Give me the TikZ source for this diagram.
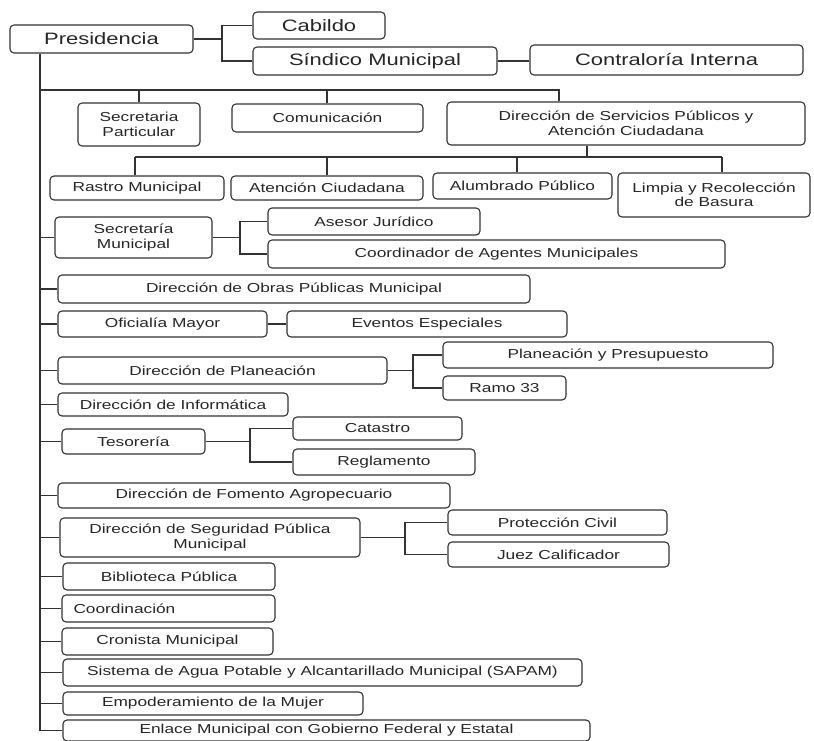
\documentclass[tikz,border=0pt]{standalone}
\usepackage{fontspec}
\setmainfont{Liberation Sans}[FakeStretch=1.33]
\tikzset{
  orgbox/.style={draw=black!80, line width=1.1pt, rounded corners=4pt, align=center,
    inner sep=1pt, text=black!85, font=\fontsize{13}{14.5}\selectfont},
  bigtxt/.style={font=\fontsize{16.5}{18}\selectfont},
  conn/.style={draw=black!80, line width=1.1pt}
}
% #1 options, #2 name, #3 x1, #4 y1, #5 x2, #6 y2, #7 text
\newcommand\obox[7][]{%
  \node[orgbox, minimum width={(#5-#3)*1pt}, minimum height={(#6-#4)*1pt}, #1]
    (#2) at ({(#3+#5)/2},{(#4+#6)/2}) {#7};}
\begin{document}
\begin{tikzpicture}[x=1pt,y=-1pt]
\useasboundingbox (0,0) rectangle (814,741);
% top level
\obox[bigtxt]{pres}{10}{25}{193}{53}{Presidencia}
\obox[bigtxt]{cab}{253}{12}{385}{39}{Cabildo}
\obox[bigtxt]{sin}{253}{47}{497}{75}{Síndico Municipal}
\obox[bigtxt]{con}{530}{45}{803}{75}{Contraloría Interna}
% second row
\obox{sp}{78}{103}{200}{146}{Secretaria\\Particular}
\obox{com}{232}{104}{423}{132}{Comunicación}
\obox{dsp}{447}{102}{805}{145}{Dirección de Servicios Públicos y\\Atención Ciudadana}
% third row
\obox{ras}{50}{176}{224}{200}{Rastro Municipal}
\obox{ate}{231}{176}{423}{200}{Atención Ciudadana}
\obox{alu}{433}{173}{612}{199}{Alumbrado Público}
\obox{lim}{618}{173}{810}{217}{Limpia y Recolección\\de Basura}
% list
\obox{sm}{55}{217}{212}{258}{Secretaría\\Municipal}
\obox{ase}{268}{208}{480}{235}{Asesor Jurídico}
\obox{cam}{268}{240}{725}{268}{Coordinador de Agentes Municipales}
\obox{dop}{58}{275}{530}{303}{Dirección de Obras Públicas Municipal}
\obox{ofi}{58}{311}{267}{337}{Oficialía Mayor}
\obox{eve}{287}{311}{567}{337}{Eventos Especiales}
\obox{dpl}{58}{357}{387}{384}{Dirección de Planeación}
\obox{ppr}{443}{342}{773}{368}{Planeación y Presupuesto}
\obox{ram}{443}{376}{566}{400}{Ramo 33}
\obox{din}{58}{393}{288}{416}{Dirección de Informática}
\obox{tes}{62}{429}{205}{454}{Tesorería}
\obox{cat}{293}{417}{462}{440}{Catastro}
\obox{reg}{293}{449}{475}{475}{Reglamento}
\obox{dfa}{58}{483}{450}{508}{Dirección de Fomento Agropecuario}
\obox{dsg}{60}{518}{360}{557}{Dirección de Seguridad Pública\\Municipal}
\obox{pci}{448}{510}{667}{535}{Protección Civil}
\obox{jue}{448}{542}{669}{567}{Juez Calificador}
\obox{bib}{63}{563}{275}{590}{Biblioteca Pública}
\obox[text width=190pt, align=left, inner xsep=11.5pt]{coo}{62}{595}{275}{622}{Coordinación}
\obox{cro}{62}{628}{273}{655}{Cronista Municipal}
\obox{sap}{63}{659}{582}{686}{Sistema de Agua Potable y Alcantarillado Municipal (SAPAM)}
\obox{emp}{63}{692}{363}{715}{Empoderamiento de la Mujer}
\obox{enl}{63}{720}{590}{741}{Enlace Municipal con Gobierno Federal y Estatal}
% helper coordinates
\coordinate (T) at (40,0);
\coordinate (bus) at (0,90);
\coordinate (k1) at (222,0);
\coordinate (d1) at (559,90);
\coordinate (bus2) at (587,157);
\coordinate (k2) at (240,0);
\coordinate (k3) at (413,0);
\coordinate (k4) at (250,0);
\coordinate (k5) at (405,0);
\coordinate (r1) at (135,157);
\coordinate (r2) at (327,157);
\coordinate (r3) at (517,157);
\coordinate (r4) at (722,157);
% presidencia connectors
\draw[conn] (pres.east) -- (pres.east -| k1);
\draw[conn] (cab.west) -| (k1 |- sin.west) -- (sin.west);
\draw[conn] (sin.east) -- (sin.east -| con.west);
% trunk
\draw[conn] (pres.south -| T) -- (T |- enl.west);
% bus
\draw[conn] (T |- bus) -- (d1) -- (d1 |- dsp.north);
\draw[conn] (sp.north |- bus) -- (sp.north);
\draw[conn] (r2 |- bus) -- (r2 |- com.north);
% dsp children
\draw[conn] (dsp.south -| bus2) -- (bus2);
\draw[conn] (r1) -- (r4);
\draw[conn] (r1) -- (r1 |- ras.north);
\draw[conn] (r2) -- (r2 |- ate.north);
\draw[conn] (r3) -- (r3 |- alu.north);
\draw[conn] (r4) -- (r4 |- lim.north);
% trunk branches
\foreach \n in {sm,dop,ofi,dpl,din,tes,dfa,dsg,bib,coo,cro,sap,emp,enl}
  \draw[conn] (T |- \n.west) -- (\n.west);
% secretaria municipal
\draw[conn] (sm.east) -- (sm.east -| k2);
\draw[conn] (ase.west) -| (k2 |- cam.west) -- (cam.west);
% oficialia
\draw[conn] (ofi.east) -- (eve.west);
% planeacion
\draw[conn] (dpl.east) -- (dpl.east -| k3);
\draw[conn] (ppr.west) -| (k3 |- ram.west) -- (ram.west);
% tesoreria
\draw[conn] (tes.east) -- (tes.east -| k4);
\draw[conn] (cat.west) -| (k4 |- reg.west) -- (reg.west);
% seguridad
\draw[conn] (dsg.east) -- (dsg.east -| k5);
\draw[conn] (pci.west) -| (k5 |- jue.west) -- (jue.west);
\end{tikzpicture}
\end{document}
